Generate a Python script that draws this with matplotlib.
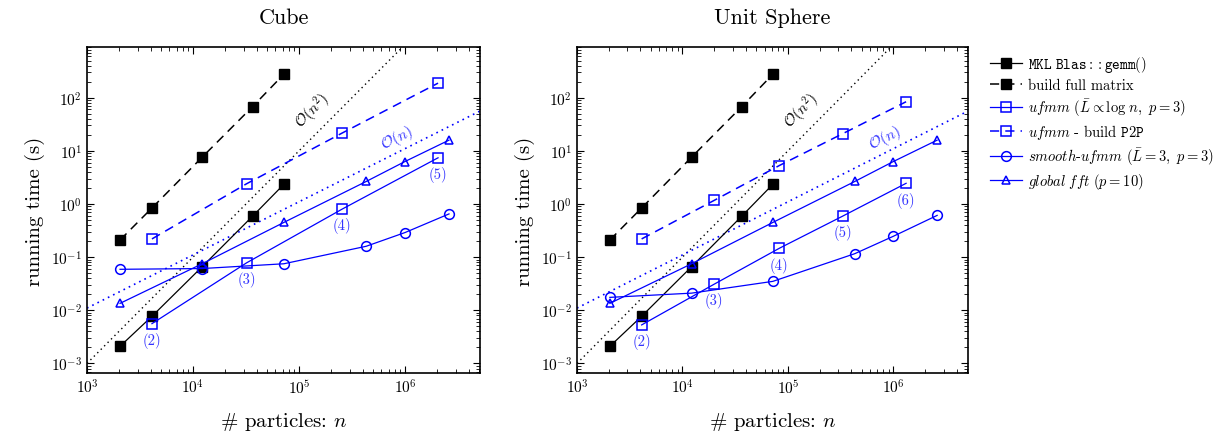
import numpy as np
import matplotlib
matplotlib.use("Agg")
import matplotlib.pyplot as plt

plt.rcParams["font.family"] = "cmr10"
plt.rcParams["mathtext.fontset"] = "cm"
plt.rcParams["axes.formatter.use_mathtext"] = True

BLUE = "#0000ff"
LBL_BLUE = "#3333ff"

# particle counts
n_dense = [2.05e3, 4.1e3, 1.22e4, 3.65e4, 7.2e4]
n_fft = [2.05e3, 1.22e4, 7.2e4, 4.3e5, 1.0e6, 2.6e6]

# dense reference (same in both panels)
t_gemm = [0.0021, 0.0077, 0.066, 0.59, 2.35]
t_full = [0.21, 0.84, 7.6, 68, 277]
t_fft = [0.0135, 0.075, 0.45, 2.65, 6.3, 15.9]

# Cube
cube_n_ufmm = [4.1e3, 3.2e4, 2.55e5, 2.05e6]
cube_t_ufmm = [0.0056, 0.078, 0.80, 7.4]
cube_t_p2p = [0.22, 2.4, 21.6, 188]
cube_lbl = ["(2)", "(3)", "(4)", "(5)"]
cube_t_smooth = [0.059, 0.061, 0.075, 0.16, 0.29, 0.65]

# Unit sphere
sph_n_ufmm = [4.1e3, 2.0e4, 8.3e4, 3.3e5, 1.32e6]
sph_t_ufmm = [0.0053, 0.031, 0.147, 0.59, 2.45]
sph_t_p2p = [0.22, 1.17, 5.3, 21, 84]
sph_lbl = ["(2)", "(3)", "(4)", "(5)", "(6)"]
sph_t_smooth = [0.0175, 0.021, 0.035, 0.116, 0.247, 0.61]

fig = plt.figure(figsize=(12.19, 4.35), dpi=100)
ax1 = fig.add_axes([87 / 1219, 61 / 435, 393 / 1219, 326 / 435])
ax2 = fig.add_axes([577 / 1219, 61 / 435, 391 / 1219, 326 / 435])


def panel(ax, title, n_u, t_u, t_p, lbl, t_s):
    xx = np.array([1e3, 6e6])
    ax.plot(xx, 1e-9 * xx ** 2, ls=(0, (1, 2.5)), color="black", lw=1)
    ax.plot(xx, 1.1e-5 * xx, ls=(0, (1, 2.5)), color=BLUE, lw=1.2)

    ms = 7
    ax.plot(n_dense, t_gemm, "-s", color="black", ms=ms, lw=0.9, label=r"$\mathtt{MKL\ Blas::gemm()}$")
    ax.plot(n_dense, t_full, "--s", color="black", ms=ms, lw=1.1, dashes=(6, 4), label="build full matrix")
    ax.plot(n_u, t_u, "-s", color=BLUE, mfc="none", ms=ms, lw=0.9, mew=1.1,
            label=r"$\mathit{ufmm}$ ($\bar{L} \propto \log\, n,\ p=3$)")
    ax.plot(n_u, t_p, "--s", color=BLUE, mfc="none", ms=ms, lw=1.1, mew=1.1, dashes=(6, 4),
            label=r"$\mathit{ufmm}$ - build $\mathtt{P2P}$")
    ax.plot(n_fft, t_s, "-o", color=BLUE, mfc="none", ms=ms, lw=0.9, mew=1.1,
            label=r"$\mathit{smooth}$-$\mathit{ufmm}$ ($\bar{L}=3,\ p=3$)")
    ax.plot(n_fft, t_fft, "-^", color=BLUE, mfc="none", ms=5.5, lw=0.9, mew=1.1,
            label=r"$\mathit{global\ fft}$ ($p=10$)")

    for x, y, s in zip(n_u, t_u, lbl):
        ax.annotate(s, (x, y), xytext=(0, -6), textcoords="offset points",
                    ha="center", va="top", color=LBL_BLUE, fontsize=10.5)

    ax.text(1.35e5, 58, r"$\mathcal{O}(n^2)$", rotation=45, ha="center", va="center",
            fontsize=11, color="black")
    ax.text(8.3e5, 18, r"$\mathcal{O}(n)$", rotation=26, ha="center", va="center",
            fontsize=11, color=LBL_BLUE)

    ax.set_xscale("log")
    ax.set_yscale("log")
    ax.set_xlim(1e3, 5.1e6)
    ax.set_ylim(6.6e-4, 900)
    ax.set_xticks([1e3, 1e4, 1e5, 1e6])
    ax.set_yticks([1e-3, 1e-2, 1e-1, 1e0, 1e1, 1e2])
    ax.tick_params(which="both", direction="in", top=True, right=True, labelsize=11)
    ax.tick_params(which="major", length=5)
    ax.tick_params(which="minor", length=3)
    ax.set_xlabel(r"# particles: $n$", fontsize=15, labelpad=10)
    ax.set_ylabel("running time (s)", fontsize=15)
    ax.set_title(title, fontsize=16, pad=17)
    for sp in ax.spines.values():
        sp.set_linewidth(1.2)


panel(ax1, "Cube", cube_n_ufmm, cube_t_ufmm, cube_t_p2p, cube_lbl, cube_t_smooth)
panel(ax2, "Unit Sphere", sph_n_ufmm, sph_t_ufmm, sph_t_p2p, sph_lbl, sph_t_smooth)

ax2.legend(loc="upper left", bbox_to_anchor=(1.03, 1.01), frameon=False, fontsize=10.5,
           handlelength=2.2, handletextpad=0.4, labelspacing=0.3, borderaxespad=0.3)

fig.savefig("out.png", dpi=100)
